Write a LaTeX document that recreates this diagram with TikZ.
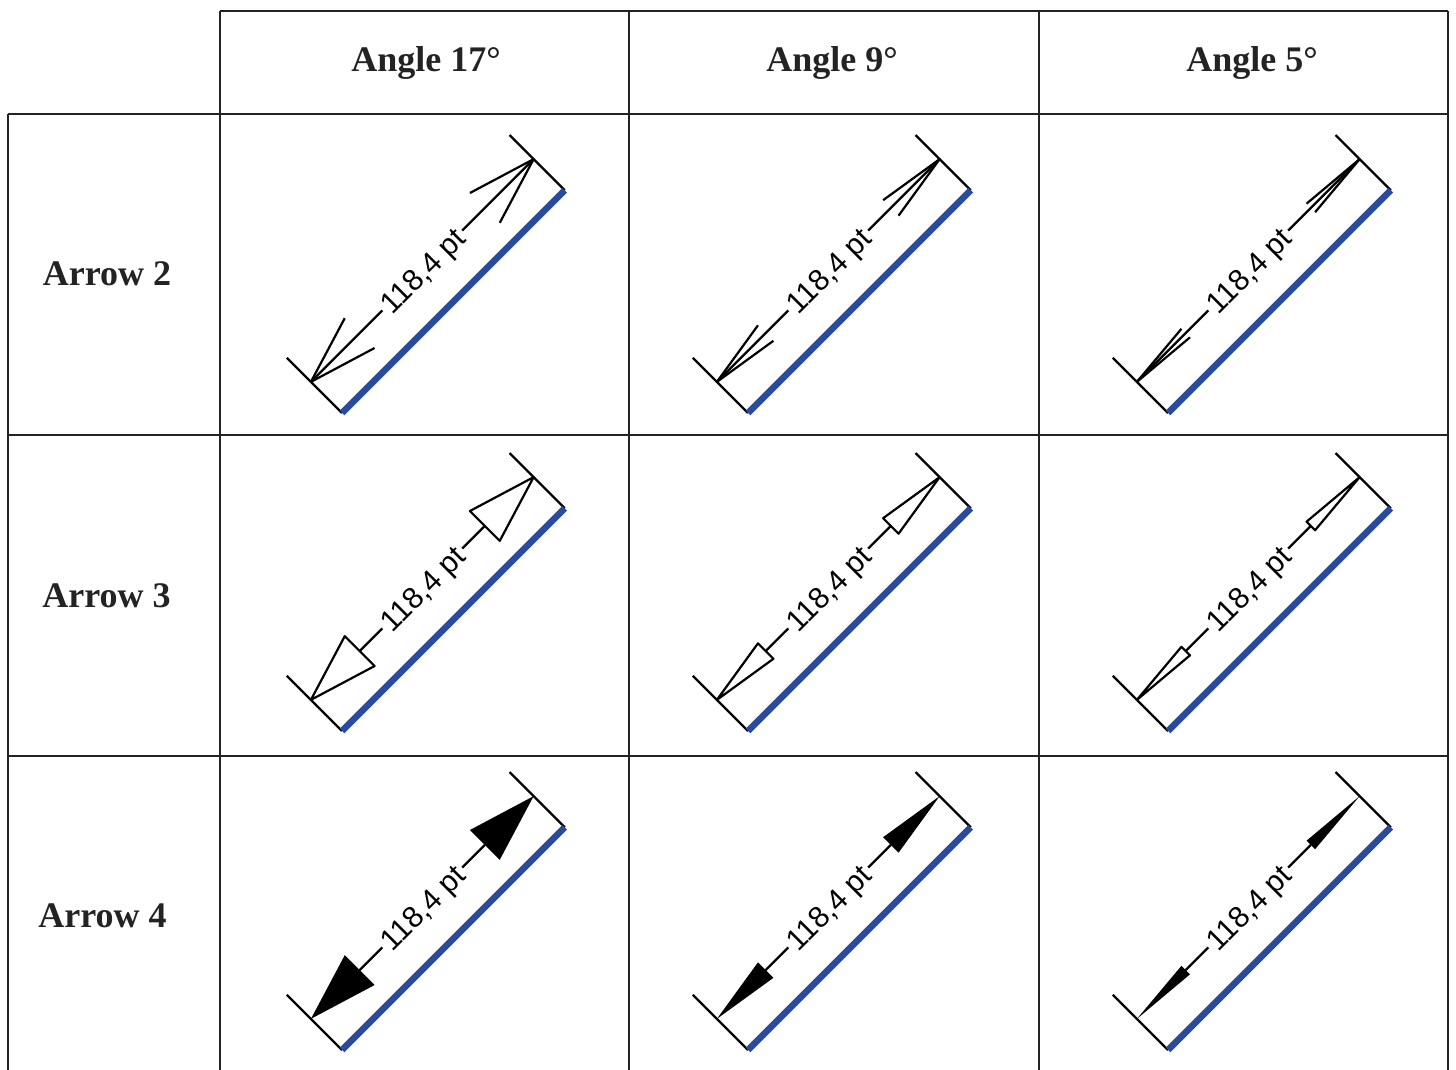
\documentclass[tikz,border=0pt]{standalone}
\usepackage{fontspec}
\setmainfont{Liberation Serif}
\newfontfamily\dimfont{Liberation Sans}
\definecolor{dimblue}{RGB}{42,74,155}
\definecolor{rulegray}{RGB}{35,35,35}
\begin{document}
\begin{tikzpicture}[x=0.5pt, y=0.5pt,
		grid/.style={draw=rulegray, line width=1.35pt},
		head/.style={anchor=base, text=rulegray, font=\bfseries\fontsize{18}{20}\selectfont},
		dimline/.style={line width=1.1pt, line join=round},
		edge/.style={draw=dimblue, line width=3.2pt},
		dimlabel/.style={font=\dimfont\fontsize{15}{16}\selectfont, inner xsep=1.5pt, inner ysep=0pt, text height=11pt, text depth=0pt}]
			\useasboundingbox (0,0) rectangle (1456,1070);

			\draw[grid] (220,1059) -- (1448,1059);
			\draw[grid] (8,956) -- (1448,956);
			\draw[grid] (8,635) -- (1448,635);
			\draw[grid] (8,314) -- (1448,314);
			\draw[grid] (8,956) -- (8,0);
			\foreach \gx in {220, 629, 1039, 1448}
				\draw[grid] (\gx,1059) -- (\gx,0);

			\node[head] (h17) at (426,998) {Angle 17°};
			\node[head] (h9) at (832,998) {Angle 9°};
			\node[head] (h5) at (1252,998) {Angle 5°};
			\node[head] (r2) at (107,784) {Arrow 2};
			\node[head] (r3) at (106.5,462) {Arrow 3};
			\node[head] (r4) at (102.5,142) {Arrow 4};

			\foreach \cx/\ang in {342/17, 748/9, 1168/5} {
				\foreach \cy/\kind in {657/2, 339/3, 20/4} {
					\pgfmathsetmacro{\h}{69*tan(\ang)}
					\begin{scope}[shift={(\cx,\cy)}, rotate=45, transform shape]
						\draw[dimline] (0,0) -- (0,78);
						\draw[dimline] (315,0) -- (315,78);
						\draw[edge] (0,0) -- (315,0);
						\node[dimlabel] (t) at (157.5,44) {118,4 pt};
						\coordinate (a) at (0,44);
						\coordinate (b) at (315,44);
						\coordinate (a1) at (69,44);
						\coordinate (b1) at (246,44);
						\ifnum\kind=2
							\draw[dimline] (t) -- (a);
							\draw[dimline] (t) -- (b);
							\draw[dimline] (69,{44+\h}) -- (a) -- (69,{44-\h});
							\draw[dimline] (246,{44+\h}) -- (b) -- (246,{44-\h});
						\else
							\draw[dimline] (t) -- (a1);
							\draw[dimline] (t) -- (b1);
							\ifnum\kind=3
								\draw[dimline] (a) -- (69,{44+\h}) -- (69,{44-\h}) -- cycle;
								\draw[dimline] (b) -- (246,{44+\h}) -- (246,{44-\h}) -- cycle;
							\else
								\fill (a) -- (69,{44+\h}) -- (69,{44-\h}) -- cycle;
								\fill (b) -- (246,{44+\h}) -- (246,{44-\h}) -- cycle;
							\fi
						\fi
					\end{scope}
				}
			}
		\end{tikzpicture}
\end{document}
